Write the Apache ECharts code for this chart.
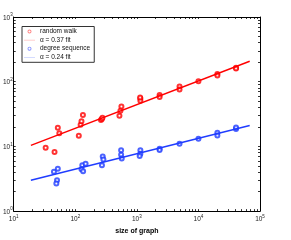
<!DOCTYPE html>
<html><head><meta charset="utf-8">
<script src="https://cdn.jsdelivr.net/npm/echarts@6/dist/echarts.min.js"></script>
<style>html,body{margin:0;padding:0;background:#fff}#c{width:291px;height:240px}</style>
</head><body><div id="c"></div>
<script>
// random walk (red circles)
const rwX = [33, 46, 52, 55, 114, 122, 126, 133, 261, 270, 276, 521, 541, 561, 1140, 1140, 1130, 2340, 2340, 4930, 4930, 10000, 20300, 20300, 40800, 40800];
const rwY = [9.5, 8.2, 19.5, 16.0, 14.6, 21.7, 24.5, 30.5, 25.6, 26.5, 27.6, 29.8, 35.5, 41.5, 55, 50.6, 57, 62.5, 58, 84, 76, 102, 132, 125, 164, 160];
// degree sequence (blue circles)
const dsX = [45, 52, 50.5, 49.2, 130, 147, 126, 134, 279, 286, 271, 555, 555, 568, 1140, 1140, 1110, 2340, 2340, 4930, 10000, 20300, 20300, 40800, 40800];
const dsY = [4.05, 4.5, 3.0, 2.68, 5.1, 5.4, 4.44, 4.14, 7.0, 6.25, 5.1, 8.7, 7.45, 6.5, 8.7, 7.7, 7.1, 9.2, 8.8, 11.0, 13.1, 16.2, 14.7, 18.6, 19.6];
// power-law fits (endpoints)
const fitX = [19, 68000];
const rwFit = [10.4, 207];
const dsFit = [3.0, 21];
// tick labels
const xLabels = [10, 100, 1000, 10000, 100000];
const yLabels = [1, 10, 100, 1000];
const names = ['random walk', 'α = 0.37 fit', 'degree sequence', 'α = 0.24 fit'];

function minorTicks(majors){
  const out = [];
  for (let i = 0; i < majors.length; i++) {
    out.push(majors[i]);
    if (i < majors.length - 1) for (let k = 2; k <= 9; k++) out.push(majors[i] * k);
  }
  return out;
}
const xTicks = minorTicks(xLabels), yTicks = minorTicks(yLabels);
const FONT = 'Liberation Sans, Arial, sans-serif';
const fmt = v => '{b|10}{s|' + Math.round(Math.log10(v)) + '}';
const rich = {
  b: {fontSize: 6.5, fontFamily: FONT, color: '#222', lineHeight: 9, verticalAlign: 'bottom'},
  s: {fontSize: 4.5, fontFamily: FONT, color: '#222', lineHeight: 9, verticalAlign: 'top'}
};
const axLine = {show: true, lineStyle: {color: '#000', width: 1}};
function xAx(pos, labels){
  return {type: 'log', logBase: 10, min: 10, max: 100000, position: pos,
    axisLine: axLine, splitLine: {show: false},
    axisTick: {show: true, inside: true, length: 2, customValues: xTicks, lineStyle: {color: '#000', width: 0.8}},
    axisLabel: labels ? {show: true, customValues: xLabels, formatter: fmt, rich: rich, margin: 3} : {show: false},
    name: labels ? 'size of graph' : '', nameLocation: 'middle', nameGap: 15,
    nameTextStyle: {fontSize: 7, fontWeight: 'bold', fontFamily: FONT, color: '#000'}};
}
function yAx(pos, labels){
  return {type: 'log', logBase: 10, min: 1, max: 1000, position: pos,
    axisLine: axLine, splitLine: {show: false},
    axisTick: {show: true, inside: true, length: 2, customValues: yTicks, lineStyle: {color: '#000', width: 0.8}},
    axisLabel: labels ? {show: true, customValues: yLabels, formatter: fmt, rich: rich, margin: 1} : {show: false}};
}
const pair = (xs, ys) => xs.map((x, i) => [x, ys[i]]);
const RED = '#ff0000', BLUE = '#1f3cff';
const lineIcon = 'path://M0,0L22,0L22,1L0,1Z';
const ringIcon = 'path://M5,0A5,5,0,1,1,4.99,0ZM5,2.2A2.8,2.8,0,1,0,5.01,2.2Z';
const chart = echarts.init(document.getElementById('c'), null, {renderer: 'canvas'});
chart.setOption({
  animation: false,
  grid: {left: 13, right: 31, top: 17, bottom: 27, containLabel: false},
  xAxis: [xAx('bottom', true), xAx('top', false)],
  yAxis: [yAx('left', true), yAx('right', false)],
  legend: {
    left: 22, top: 26.5, orient: 'vertical',
    data: [
      {name: names[0], icon: ringIcon, itemStyle: {color: '#ff6060', borderWidth: 0}},
      {name: names[1], icon: lineIcon, itemStyle: {color: '#ff9a9a', borderWidth: 0}},
      {name: names[2], icon: ringIcon, itemStyle: {color: '#6070ff', borderWidth: 0}},
      {name: names[3], icon: lineIcon, itemStyle: {color: '#a8b6ff', borderWidth: 0}}
    ],
    borderColor: '#333', borderWidth: 1, backgroundColor: '#fff',
    padding: [1, 4, 1, 2], itemGap: 0.6, itemWidth: 11, itemHeight: 4,
    textStyle: {fontSize: 6.5, fontFamily: FONT, color: '#111', lineHeight: 8}
  },
  series: [
    {name: names[0], type: 'scatter', xAxisIndex: 0, yAxisIndex: 0, data: pair(rwX, rwY),
      symbol: 'emptyCircle', symbolSize: 4, itemStyle: {color: RED, borderColor: RED, borderWidth: 0.9}},
    {name: names[1], type: 'line', xAxisIndex: 0, yAxisIndex: 0, data: pair(fitX, rwFit),
      symbol: 'none', lineStyle: {color: RED, width: 1.4}, itemStyle: {color: RED}},
    {name: names[2], type: 'scatter', xAxisIndex: 0, yAxisIndex: 0, data: pair(dsX, dsY),
      symbol: 'emptyCircle', symbolSize: 4, itemStyle: {color: BLUE, borderColor: BLUE, borderWidth: 0.9}},
    {name: names[3], type: 'line', xAxisIndex: 0, yAxisIndex: 0, data: pair(fitX, dsFit),
      symbol: 'none', lineStyle: {color: BLUE, width: 1.4}, itemStyle: {color: BLUE}}
  ]
});
</script></body></html>
